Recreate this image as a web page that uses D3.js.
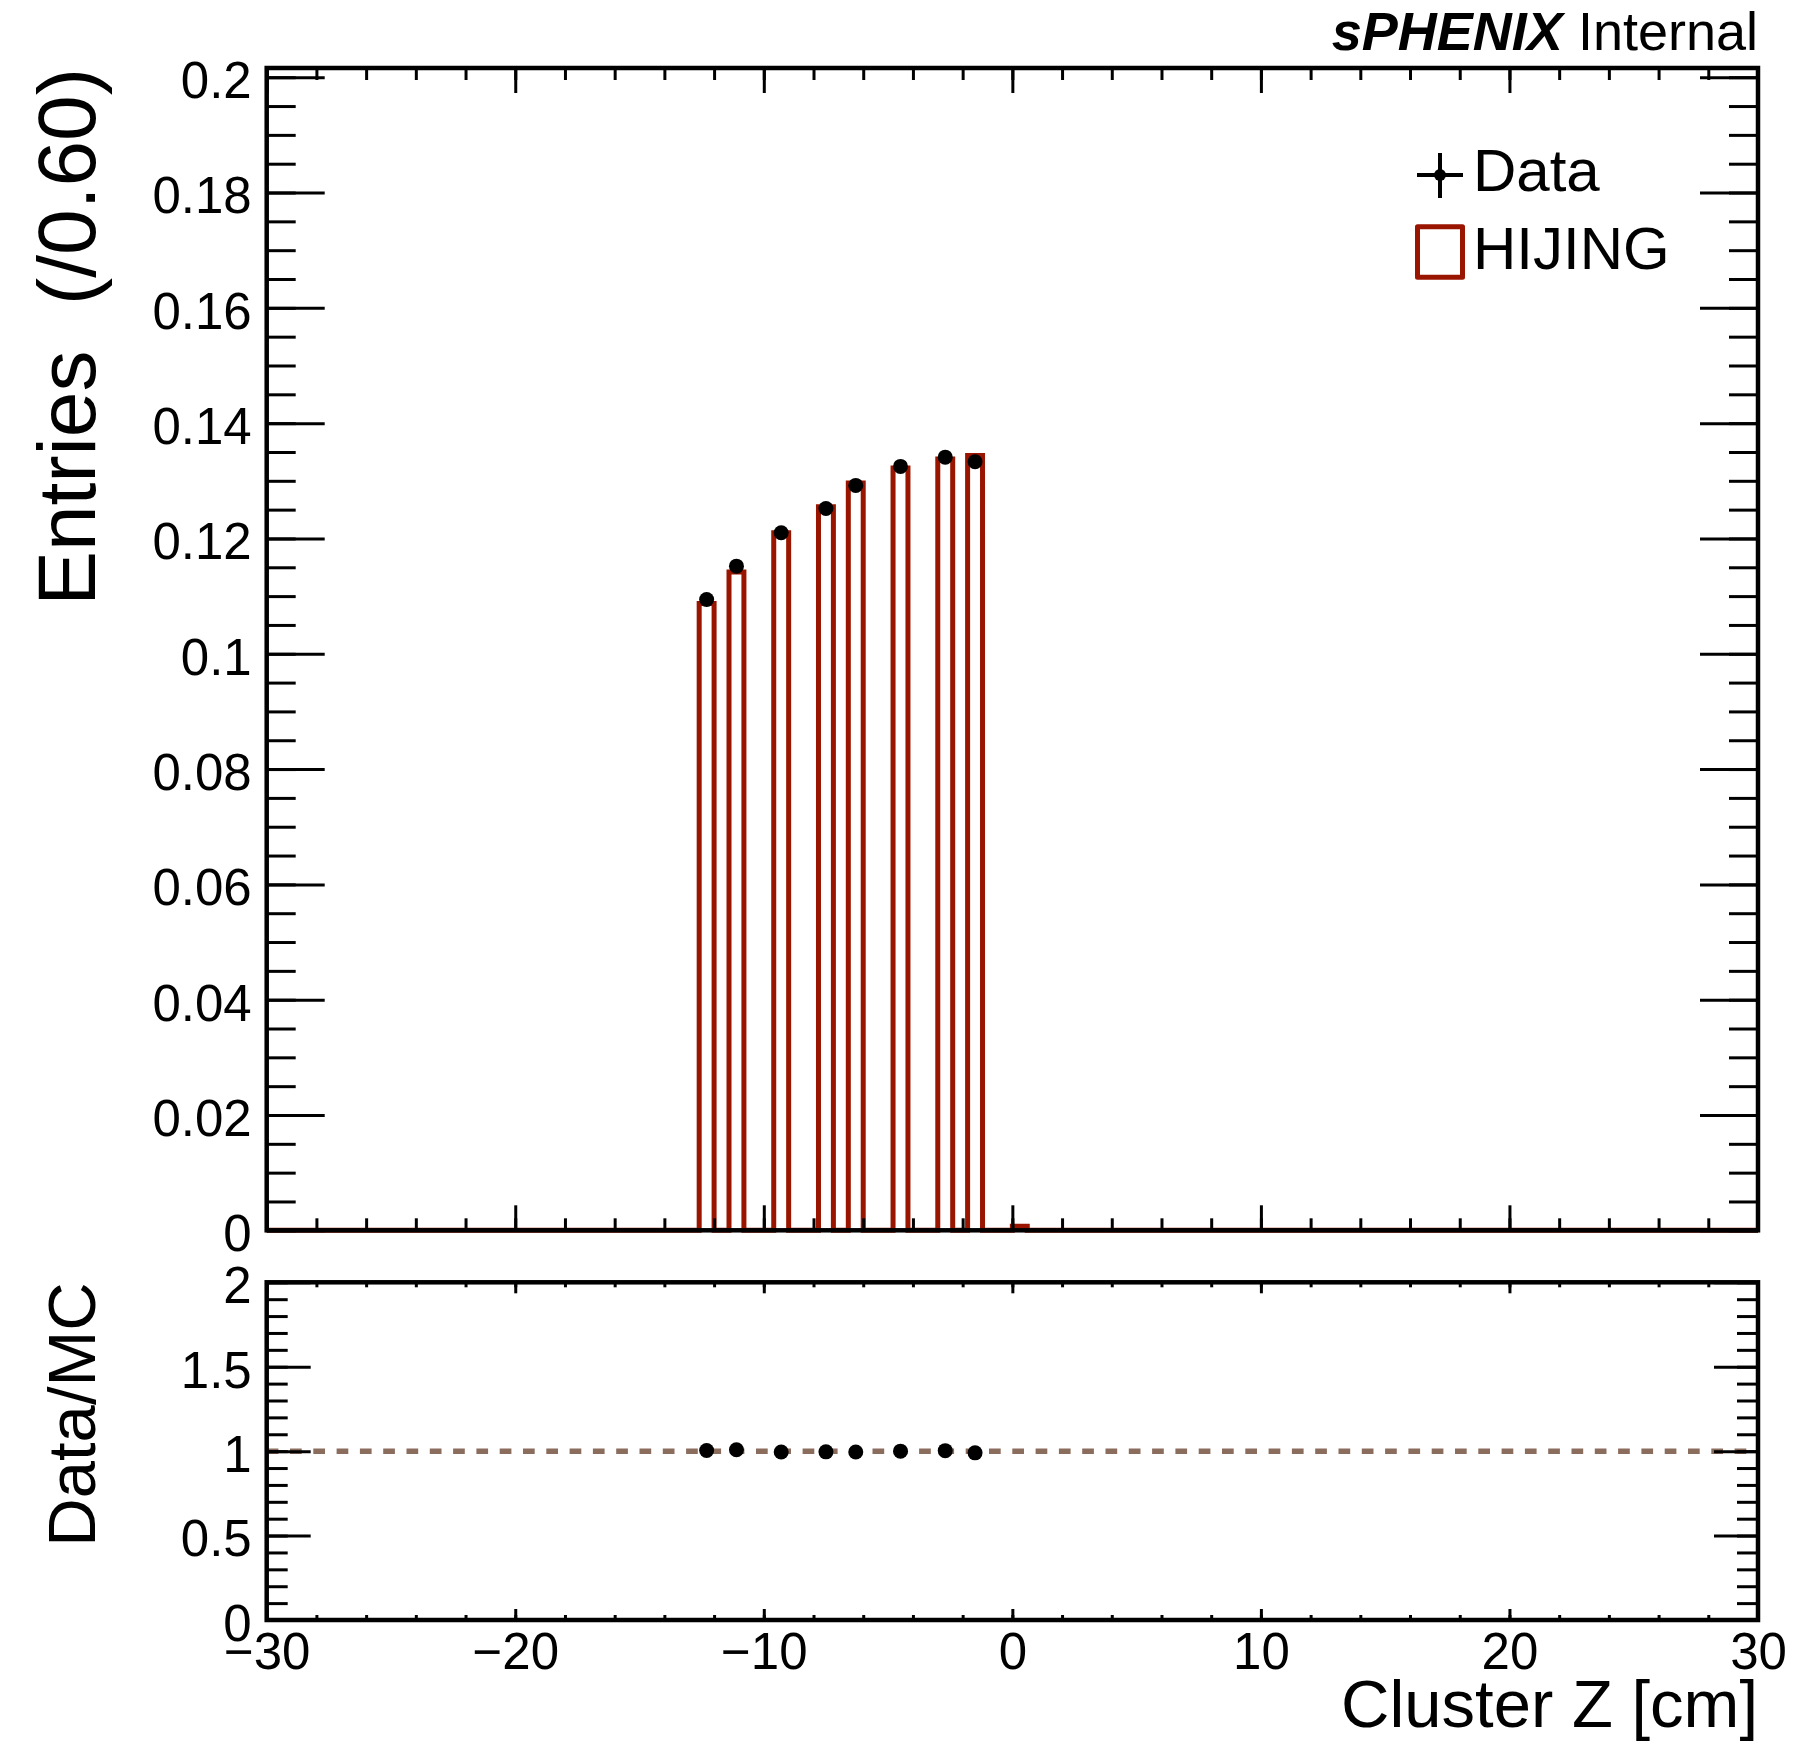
<!DOCTYPE html>
<html>
<head>
<meta charset="utf-8">
<script src="https://cdn.jsdelivr.net/npm/d3@7"></script>
<style>
body { margin: 0; background: #fff; }
</style>
</head>
<body>
<div id="chart"></div>
<script>
var width = 1808;
var height = 1749;

// histogram: 100 bins of 0.6 cm from -30 to 30, only the filled ones listed (left edges)
var binLow = [-12.6, -11.4, -9.6, -7.8, -6.6, -4.8, -3.0, -1.8, 0.0];
var mcValues = [0.1087, 0.1142, 0.1210, 0.1255, 0.1296, 0.1322, 0.1338, 0.1344, 0.0007];

// data points (bin centres)
var dataX = [-12.3, -11.1, -9.3, -7.5, -6.3, -4.5, -2.7, -1.5];
var dataValues = [0.1094, 0.1152, 0.1210, 0.1252, 0.1292, 0.1325, 0.1341, 0.1333];
var ratioValues = [1.004, 1.008, 0.995, 0.996, 0.995, 1.000, 1.003, 0.990];

var xTicks = [-30, -20, -10, 0, 10, 20, 30];
var xLabels = ["\u221230", "\u221220", "\u221210", "0", "10", "20", "30"];
var yTopTicks = [0, 0.02, 0.04, 0.06, 0.08, 0.1, 0.12, 0.14, 0.16, 0.18, 0.2];
var yTopLabels = ["0", "0.02", "0.04", "0.06", "0.08", "0.1", "0.12", "0.14", "0.16", "0.18", "0.2"];
var yBotTicks = [0, 0.5, 1, 1.5, 2];
var yBotLabels = ["0", "0.5", "1", "1.5", "2"];

var binWidth = 0.6, nBins = 100, xMin = -30, xMax = 30;
var yTopMax = 0.2016;

var histColor = "#991500";
var font = "'Liberation Sans', Arial, Helvetica, sans-serif";

var svg = d3.select("#chart").append("svg")
  .attr("width", width)
  .attr("height", height)
  .style("display", "block");

var left = 266.7, right = 1758;
var topY0 = 68, topY1 = 1230.3;    // upper pad frame
var botY0 = 1282.3, botY1 = 1620;  // ratio pad frame

var x = d3.scaleLinear().domain([xMin, xMax]).range([left, right]);
var yTop = d3.scaleLinear().domain([0, yTopMax]).range([topY1, topY0]);
var yBot = d3.scaleLinear().domain([0, 2]).range([botY1, botY0]);

// full bin contents
var contents = [];
for (let i = 0; i < nBins; i++) {
  let edge = xMin + i * binWidth;
  let k = binLow.findIndex(b => Math.abs(b - edge) < 1e-6);
  contents.push({x: edge, v: k >= 0 ? mcValues[k] : 0});
}
contents.push({x: xMax, v: contents[nBins - 1].v});

var histLine = d3.line()
  .x(d => x(d.x))
  .y(d => yTop(d.v))
  .curve(d3.curveStepAfter);

svg.append("path")
  .attr("d", histLine(contents))
  .attr("fill", "none")
  .attr("stroke", histColor)
  .attr("stroke-width", 5);

// ratio reference line
svg.append("line")
  .attr("x1", x(xMin)).attr("x2", x(xMax))
  .attr("y1", yBot(1)).attr("y2", yBot(1))
  .attr("stroke", "#8b6d5e")
  .attr("stroke-width", 5.5)
  .attr("stroke-dasharray", "11.7,11.6");

// ticks helper: ticks point into the frame
function addTicks(axis, pos, values, size, labels, pad) {
  var a = axis.tickValues(values).tickSize(-size).tickPadding(pad || 0)
    .tickFormat(labels ? d => labels[values.indexOf(d)] : "");
  var g = svg.append("g").attr("transform", pos).call(a)
    .attr("font-family", font).attr("font-size", 51);
  g.select(".domain").remove();
  g.selectAll("line").attr("stroke", "#000").attr("stroke-width", 3);
  if (labels) g.selectAll("text").attr("fill", "#000");
  else g.selectAll("text").remove();
  return g;
}

var xMinor = d3.range(xMin, xMax + 0.01, 2);
var yTopMinor = d3.range(0, yTopMax, 0.005);
var yBotMinor = d3.range(0, 2.001, 0.1);

// upper pad
addTicks(d3.axisBottom(x), "translate(0," + topY1 + ")", xTicks, 25);
addTicks(d3.axisBottom(x), "translate(0," + topY1 + ")", xMinor, 12);
addTicks(d3.axisTop(x), "translate(0," + topY0 + ")", xTicks, 25);
addTicks(d3.axisTop(x), "translate(0," + topY0 + ")", xMinor, 12);
addTicks(d3.axisLeft(yTop), "translate(" + left + ",0)", yTopTicks, 58, yTopLabels, 15)
  .selectAll("text").attr("dy", "0.4em");
addTicks(d3.axisLeft(yTop), "translate(" + left + ",0)", yTopMinor, 29);
addTicks(d3.axisRight(yTop), "translate(" + right + ",0)", yTopTicks, 58);
addTicks(d3.axisRight(yTop), "translate(" + right + ",0)", yTopMinor, 29);

// ratio pad
addTicks(d3.axisBottom(x), "translate(0," + botY1 + ")", xTicks, 11, xLabels, 12.5);
addTicks(d3.axisBottom(x), "translate(0," + botY1 + ")", xMinor, 5);
addTicks(d3.axisTop(x), "translate(0," + botY0 + ")", xTicks, 11);
addTicks(d3.axisTop(x), "translate(0," + botY0 + ")", xMinor, 5);
addTicks(d3.axisLeft(yBot), "translate(" + left + ",0)", yBotTicks, 44, yBotLabels, 15)
  .selectAll("text").attr("dy", "0.4em");
addTicks(d3.axisLeft(yBot), "translate(" + left + ",0)", yBotMinor, 21);
addTicks(d3.axisRight(yBot), "translate(" + right + ",0)", yBotTicks, 44);
addTicks(d3.axisRight(yBot), "translate(" + right + ",0)", yBotMinor, 21);

// frames
[[topY0, topY1], [botY0, botY1]].forEach(function(f) {
  svg.append("rect")
    .attr("x", left).attr("y", f[0])
    .attr("width", right - left).attr("height", f[1] - f[0])
    .attr("fill", "none").attr("stroke", "#000").attr("stroke-width", 4.5);
});

// data markers
svg.selectAll("circle.data")
  .data(dataX)
  .enter().append("circle")
  .attr("class", "data")
  .attr("cx", d => x(d))
  .attr("cy", (d, i) => yTop(dataValues[i]))
  .attr("r", 7.5)
  .attr("fill", "#000");

svg.selectAll("circle.ratio")
  .data(dataX)
  .enter().append("circle")
  .attr("class", "ratio")
  .attr("cx", d => x(d))
  .attr("cy", (d, i) => yBot(ratioValues[i]))
  .attr("r", 7.5)
  .attr("fill", "#000");

// axis titles
svg.append("text")
  .attr("transform", "translate(95," + topY0 + ") rotate(-90)")
  .attr("text-anchor", "end")
  .attr("font-family", font).attr("font-size", 82)
  .style("white-space", "pre")
  .text("Entries  (/0.60)");

svg.append("text")
  .attr("transform", "translate(95," + botY0 + ") rotate(-90)")
  .attr("text-anchor", "end")
  .attr("font-family", font).attr("font-size", 67)
  .text("Data/MC");

svg.append("text")
  .attr("x", right).attr("y", 1727)
  .attr("text-anchor", "end")
  .attr("font-family", font).attr("font-size", 67)
  .text("Cluster Z [cm]");

// sPHENIX label
var lab = svg.append("text")
  .attr("x", right).attr("y", 50)
  .attr("text-anchor", "end")
  .attr("font-family", font).attr("font-size", 54);
lab.append("tspan").attr("font-weight", "bold").attr("font-style", "italic").text("sPHENIX");
lab.append("tspan").text(" Internal");

// legend
var lg = svg.append("g");
lg.append("line").attr("x1", 1417).attr("x2", 1463).attr("y1", 175).attr("y2", 175)
  .attr("stroke", "#000").attr("stroke-width", 4);
lg.append("line").attr("x1", 1440).attr("x2", 1440).attr("y1", 153).attr("y2", 198)
  .attr("stroke", "#000").attr("stroke-width", 4);
lg.append("circle").attr("cx", 1440).attr("cy", 175).attr("r", 6).attr("fill", "#000");
lg.append("text").attr("x", 1473).attr("y", 191)
  .attr("font-family", font).attr("font-size", 60).text("Data");
lg.append("rect").attr("x", 1417.5).attr("y", 226.8).attr("width", 45).attr("height", 50.5)
  .attr("fill", "none").attr("stroke", histColor).attr("stroke-width", 5)
  .attr("stroke-linejoin", "round");
lg.append("text").attr("x", 1473).attr("y", 269)
  .attr("font-family", font).attr("font-size", 60).text("HIJING");
</script>
</body>
</html>
